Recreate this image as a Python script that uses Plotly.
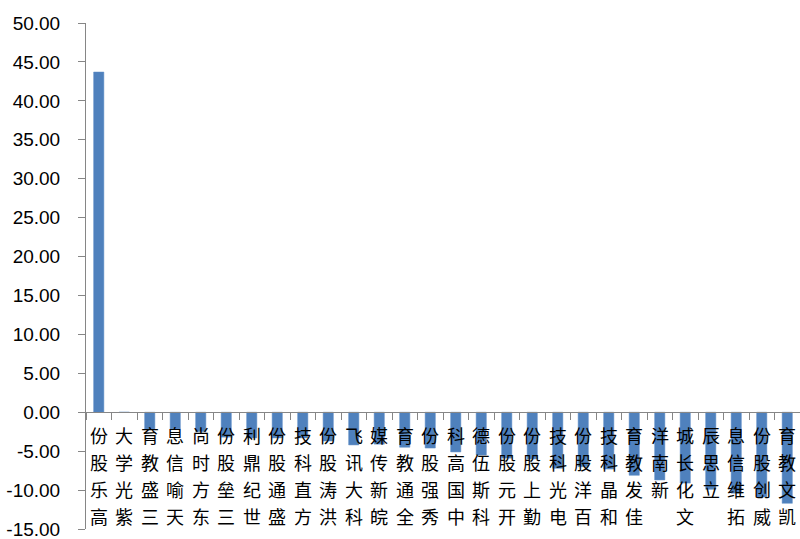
import plotly.graph_objects as go

categories = ["高乐股份", "紫光学大", "三盛教育", "天喻信息", "东方时尚", "三垒股份", "世纪鼎利",
              "盛通股份", "方直科技", "洪涛股份", "科大讯飞", "皖新传媒", "全通教育", "秀强股份",
              "中国高科", "科斯伍德", "开元股份", "勤上股份", "电光科技", "百洋股份", "和晶科技",
              "佳发教育", "新南洋", "文化长城", "立思辰", "拓维信息", "威创股份", "凯文教育"]
values = [43.7, 0.0, -2.15, -2.15, -2.5, -3.2, -3.3,
          -3.3, -3.3, -3.7, -4.2, -4.1, -4.5, -4.6,
          -5.1, -5.5, -5.9, -6.0, -7.2, -7.0, -7.3,
          -8.1, -8.7, -9.1, -9.9, -10.4, -10.9, -11.7]
y_tickvals = [-15, -10, -5, 0, 5, 10, 15, 20, 25, 30, 35, 40, 45, 50]
y_ticktext = ["-15.00", "-10.00", "-5.00", "0.00", "5.00", "10.00", "15.00", "20.00",
              "25.00", "30.00", "35.00", "40.00", "45.00", "50.00"]

y_min, y_max = -15, 50
zero_frac = (0 - y_min) / (y_max - y_min)

fig = go.Figure(go.Bar(
    x=categories, y=values,
    marker=dict(color="#4F81BD", line=dict(color="#5B8BC4", width=0.5)),
    width=0.4,
))

# vertical category labels reading bottom-to-top, aligned to the zero axis
char_step = 27
for cat in categories:
    for j, ch in enumerate(reversed(cat)):
        fig.add_annotation(
            x=cat, xref="x", y=zero_frac, yref="paper",
            yanchor="top", xanchor="center",
            yshift=-(8 + j * char_step),
            text=ch, showarrow=False,
            font=dict(family="Noto Sans CJK SC", size=18, color="#000000"),
        )

fig.update_layout(
    width=800, height=539,
    margin=dict(l=86, r=0, t=23, b=10),
    paper_bgcolor="white", plot_bgcolor="white",
    showlegend=False,
    xaxis=dict(
        type="category",
        showticklabels=False,
        anchor="free", position=zero_frac,
        showline=True, linecolor="#868686", linewidth=1,
        ticks="outside", ticklen=7, tickcolor="#868686", tickson="boundaries",
        showgrid=False, zeroline=False,
        range=[-0.5, len(categories) - 0.5],
    ),
    yaxis=dict(
        range=[y_min, y_max],
        tickmode="array", tickvals=y_tickvals, ticktext=y_ticktext,
        showline=True, linecolor="#868686", linewidth=1,
        ticks="outside", ticklen=7, tickcolor="#868686",
        ticklabelstandoff=14, ticklabeloverflow="allow",
        showgrid=False, zeroline=False,
        tickfont=dict(family="Liberation Sans", size=19, color="#000000"),
    ),
)

fig.write_html("out.html")
